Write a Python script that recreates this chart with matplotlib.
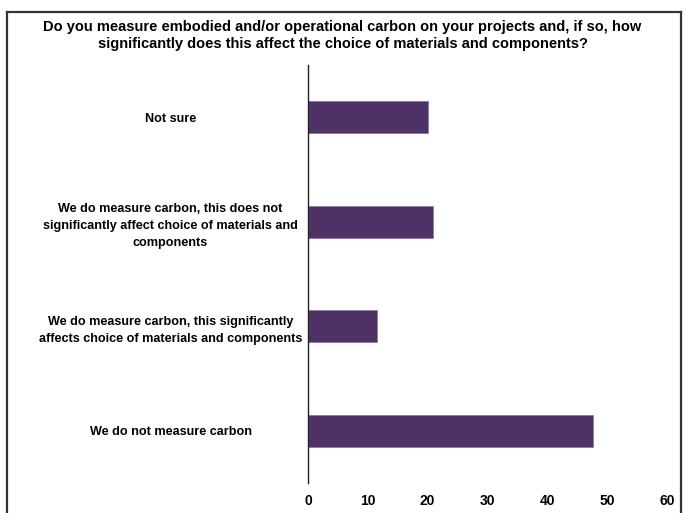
import matplotlib
matplotlib.use("Agg")
import matplotlib.pyplot as plt
from matplotlib.lines import Line2D

plt.rcParams['font.family'] = ["Liberation Sans", "DejaVu Sans"]

categories = [
    "We do not measure carbon",
    "We do measure carbon, this significantly\naffects choice of materials and components",
    "We do measure carbon, this does not\nsignificantly affect choice of materials and\ncomponents",
    "Not sure",
]
values = [47.6, 11.6, 20.9, 20.0]
xticks = [0, 10, 20, 30, 40, 50, 60]
title = ("Do you measure embodied and/or operational carbon on your projects and, if so, how\n"
         "significantly does this affect the choice of materials and components?")

fig = plt.figure(figsize=(6.85, 5.13), dpi=100)
ax = fig.add_axes([308/685, 1-483/513, (667-308)/685, (483-65)/513])
ax.barh(range(len(categories)), values, height=0.31, color="#4E3166",
        edgecolor="#8C77A6", linewidth=0.6)
ax.set_ylim(-0.5, 3.5)
ax.set_xlim(0, 60)
ax.set_xticks(xticks)
ax.set_xticklabels([str(t) for t in xticks], fontsize=10, fontweight="bold")
ax.set_yticks(range(len(categories)))
ax.set_yticklabels(categories, fontsize=9.1, fontweight="bold", ha="center", linespacing=1.6)
ax.tick_params(axis="y", length=0, pad=99)
ax.tick_params(axis="x", length=0, pad=8)
for s in ["top", "right", "bottom"]:
    ax.spines[s].set_visible(False)
ax.spines["left"].set_linewidth(1.0)
ax.spines["left"].set_color("#222222")

fig.text(0.5, 1-35.5/513, title, ha="center", va="center", fontsize=10.5,
         fontweight="bold", linespacing=1.25)

# figure border (left, top, right)
x0, x1 = 7/685, 681/685
yt = 1-12/513
for xs, ys in [([x0, x0], [0, yt]), ([x0, x1], [yt, yt]), ([x1, x1], [yt, 0])]:
    fig.add_artist(Line2D(xs, ys, transform=fig.transFigure, color="#333333", linewidth=1.6))

fig.savefig("out.png", dpi=100)
